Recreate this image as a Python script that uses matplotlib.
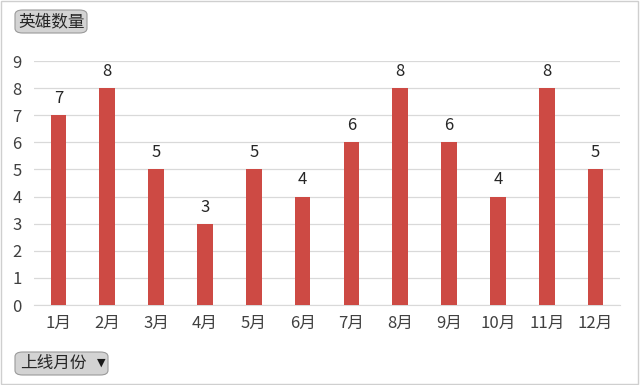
import matplotlib.pyplot as plt
from matplotlib.patches import Rectangle, FancyBboxPatch

plt.rcParams['font.family'] = ['Noto Sans CJK SC', 'DejaVu Sans']

months = ['1月', '2月', '3月', '4月', '5月', '6月', '7月', '8月', '9月', '10月', '11月', '12月']
heroes = [7, 8, 5, 3, 5, 4, 6, 8, 6, 4, 8, 5]

fig = plt.figure(figsize=(6.4, 3.85), dpi=100)
fig.patch.set_facecolor('white')
ax = fig.add_axes([34 / 640, 1 - 305 / 385, 586 / 640, 244 / 385])

x = list(range(len(months)))
ax.bar(x, heroes, width=0.32, color='#cd4a44', zorder=3)
for xi, v in zip(x, heroes):
    ax.text(xi, v + 0.3, str(v), ha='center', va='bottom', fontsize=12, color='#262626')

ax.set_xlim(-0.5, len(months) - 0.5)
ax.set_ylim(0, 9)
ax.set_yticks(range(10))
ax.set_xticks(x)
ax.set_xticklabels(months)
ax.grid(axis='y', color='#d9d9d9', linewidth=0.9, zorder=0)
for s in ['top', 'right', 'left']:
    ax.spines[s].set_visible(False)
ax.spines['bottom'].set_color('#d9d9d9')
ax.tick_params(axis='both', length=0, labelsize=12, labelcolor='#404040')
ax.tick_params(axis='x', pad=7)
ax.tick_params(axis='y', pad=9)

# 按钮
def button(x0, y0, w, h):
    fig.patches.append(FancyBboxPatch((x0 / 640, 1 - (y0 + h) / 385), w / 640, h / 385,
                                      boxstyle='round,pad=0,rounding_size=0.012',
                                      transform=fig.transFigure, facecolor='#d3d3d3',
                                      edgecolor='#9a9a9a', linewidth=0.8))

button(15, 10, 72, 23)
fig.text(18 / 640, 1 - 21.5 / 385, '英雄数量', fontsize=12, color='#262626', va='center', ha='left')
button(15, 352, 93, 23)
fig.text(20 / 640, 1 - 363.5 / 385, '上线月份', fontsize=12, color='#262626', va='center', ha='left')
fig.text(101 / 640, 1 - 363 / 385, '▼', fontsize=8, color='#1a1a1a', va='center', ha='center',
         family='DejaVu Sans')

fig.patches.append(Rectangle((0.002, 0.003), 0.995, 0.994, transform=fig.transFigure,
                             fill=False, edgecolor='#cfcfcf', linewidth=1))

fig.savefig('out.png', dpi=100)
